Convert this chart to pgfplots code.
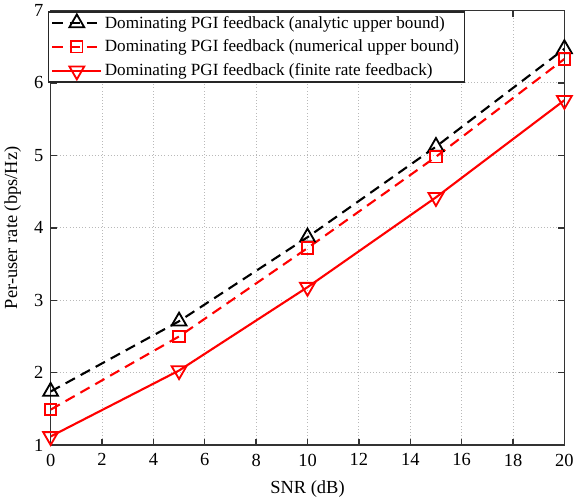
\documentclass[border=0pt]{standalone}
\usepackage{pgfplots}
\pgfplotsset{compat=1.18}
\usepackage{fontspec}
\setmainfont{Liberation Serif}
\begin{document}
\begin{tikzpicture}
\begin{axis}[
  scale only axis,
  width=390pt, height=330pt,
  xmin=0, xmax=20, ymin=1, ymax=7,
  xtick={0,2,...,20}, ytick={1,2,...,7},
  grid=major,
  major grid style={dotted, gray!55, line width=0.7pt},
  axis line style={line width=1.1pt, black!80},
  tick style={line width=1.1pt, black!80},
  tick align=inside,
  major tick length=5pt,
  xticklabel style={font=\fontsize{14}{16}\selectfont, yshift=-3pt},
  yticklabel style={font=\fontsize{14}{16}\selectfont, xshift=-2pt},
  /pgf/number format/assume math mode=true,
  xlabel={SNR (dB)}, ylabel={Per-user rate (bps/Hz)},
  label style={font=\fontsize{14}{16}\selectfont},
  xlabel style={yshift=-4pt},
  ylabel style={yshift=3pt},
  legend cell align=left,
  legend style={at={(-0.005,0.998)}, anchor=north west, draw=black!85, line width=1.1pt,
    font=\fontsize{13}{15}\selectfont, inner xsep=2pt, inner ysep=1pt, row sep=3.5pt},
  legend image code/.code={
    \draw[mark repeat=2,mark phase=2] plot coordinates {(0cm,0cm) (0.65cm,0cm) (1.3cm,0cm)};
  },
]
\addplot[black, line width=1.6pt, dash pattern=on 8pt off 5pt, mark=triangle, mark size=6.5pt, mark options={solid, line width=1.4pt}]
  coordinates {(0,1.74) (5,2.71) (10,3.87) (15,5.12) (20,6.47)};
\addlegendentry{Dominating PGI feedback (analytic upper bound)}
\addplot[red, line width=1.6pt, dash pattern=on 8pt off 5pt, mark=square, mark size=4.3pt, mark options={solid, line width=1.4pt}]
  coordinates {(0,1.49) (5,2.50) (10,3.72) (15,4.98) (20,6.33)};
\addlegendentry{Dominating PGI feedback (numerical upper bound)}
\addplot[red, line width=1.6pt, mark=triangle, mark size=6.5pt, mark options={solid, line width=1.4pt, rotate=180}]
  coordinates {(0,1.12) (5,2.03) (10,3.18) (15,4.42) (20,5.76)};
\addlegendentry{Dominating PGI feedback (finite rate feedback)}
\end{axis}
\end{tikzpicture}
\end{document}
